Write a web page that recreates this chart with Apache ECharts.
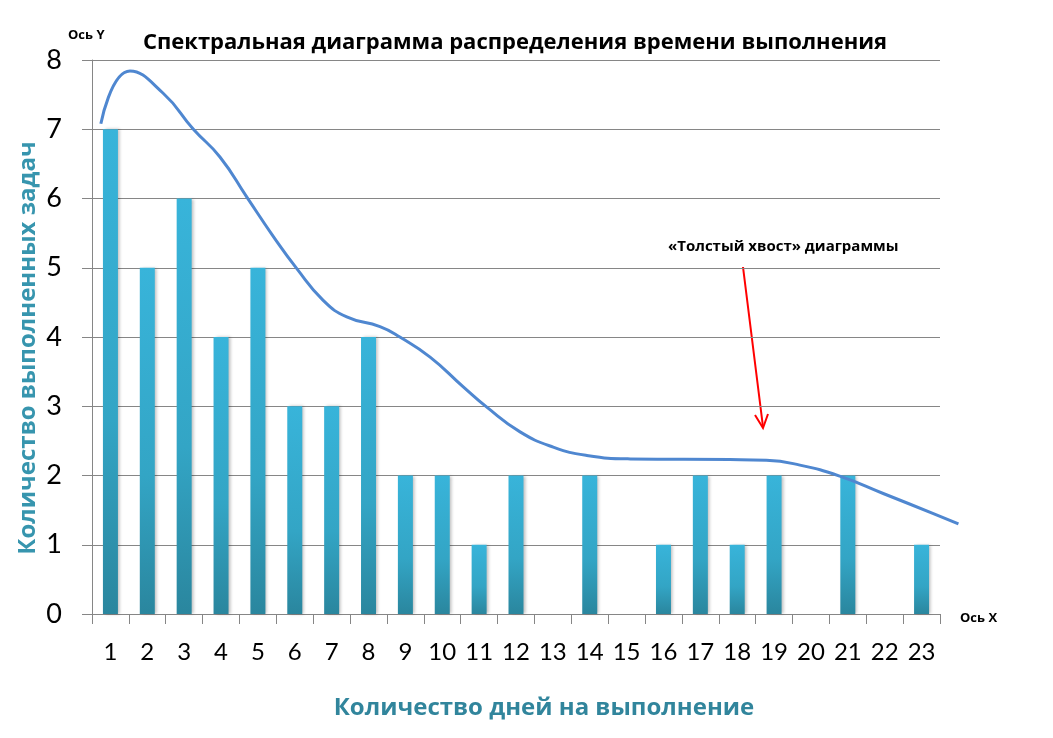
<!DOCTYPE html>
<html>
<head>
<meta charset="utf-8">
<script src="https://cdn.jsdelivr.net/npm/echarts@6/dist/echarts.min.js"></script>
<style>
  html, body { margin: 0; padding: 0; background: #fff; }
  #chart { width: 1053px; height: 738px; }
</style>
</head>
<body>
<div id="chart"></div>
<script>
const days = ['1','2','3','4','5','6','7','8','9','10','11','12','13','14','15','16','17','18','19','20','21','22','23']
const tasks = [7, 5, 6, 4, 5, 3, 3, 4, 2, 2, 1, 2, 0, 2, 0, 1, 2, 1, 2, 0, 2, 0, 1]

// hand drawn trend curve: [day position, value]
const curveX = [0.74, 1.53, 2.43, 3.25, 3.97, 4.70, 5.42, 6.05, 6.77, 7.41, 8.31, 8.85, 9.67, 10.57, 11.2, 12.11, 13.01, 13.92, 15.1, 17.8, 18.79, 19.7, 20.78, 21.96, 23.32, 24.0]
const curveY = [7.08, 7.84, 7.52, 7.0, 6.6, 6.02, 5.45, 4.99, 4.53, 4.29, 4.15, 4.0, 3.71, 3.28, 2.99, 2.63, 2.41, 2.29, 2.24, 2.23, 2.22, 2.15, 1.99, 1.74, 1.45, 1.3]

const chart = echarts.init(document.getElementById('chart'))

const font = 'Lato, "Open Sans", sans-serif'
const bold = '"Open Sans", Lato, sans-serif'
const teal = '#31859c'
const gray = '#868686'

// the curve runs a little past the last category, so it gets its own wider grid
const plotLeft = 92, plotRight = 940, curveRight = 962
const catW = (plotRight - plotLeft) / days.length

const option = {
  animation: false,
  grid: [
    { left: plotLeft, right: 1053 - plotRight, top: 60, bottom: 124, outerBoundsMode: 'none' },
    { left: plotLeft, right: 1053 - curveRight, top: 60, bottom: 124, outerBoundsMode: 'none' }
  ],
  title: {
    text: 'Спектральная диаграмма распределения времени выполнения',
    left: 510, top: 27, textAlign: 'center',
    textStyle: { fontFamily: bold, fontSize: 22, fontWeight: 'bold', color: '#000' }
  },
  xAxis: [
    {
      type: 'category',
      gridIndex: 0,
      data: days,
      boundaryGap: true,
      axisLine: { lineStyle: { color: gray } },
      axisTick: { show: true, length: 10, lineStyle: { color: gray } },
      axisLabel: { fontFamily: font, fontSize: 24, color: '#000', margin: 26, interval: 0 }
    },
    {
      type: 'value',
      gridIndex: 1,
      min: 0.5, max: 0.5 + (curveRight - plotLeft) / catW,
      show: false
    }
  ],
  yAxis: [
    {
      type: 'value',
      gridIndex: 0,
      min: 0, max: 8, interval: 1,
      axisLine: { show: true, lineStyle: { color: gray } },
      axisTick: { show: true, length: 10, lineStyle: { color: gray } },
      splitLine: { lineStyle: { color: gray, width: 1 } },
      axisLabel: { fontFamily: font, fontSize: 27, color: '#000', margin: 30 }
    },
    {
      type: 'value',
      gridIndex: 1,
      min: 0, max: 8,
      show: false
    }
  ],
  series: [
    {
      type: 'bar',
      data: tasks,
      barWidth: 15,
      itemStyle: {
        color: new echarts.graphic.LinearGradient(0, 0, 0, 1, [
          { offset: 0, color: '#38b4da' },
          { offset: 0.6, color: '#33a5c5' },
          { offset: 1, color: '#2a869e' }
        ]),
        shadowColor: 'rgba(0,0,0,0.25)',
        shadowBlur: 3,
        shadowOffsetX: 2
      }
    },
    {
      type: 'line',
      xAxisIndex: 1,
      yAxisIndex: 1,
      data: curveX.map((x, i) => [x, curveY[i]]),
      smooth: 0.5,
      showSymbol: false,
      clip: false,
      lineStyle: { color: '#4f87d0', width: 3 }
    }
  ],
  graphic: [
    { type: 'text', left: 68, top: 29,
      style: { text: 'Ось Y', font: 'bold 13px ' + bold, fill: '#000' } },
    { type: 'text', left: 960, top: 612,
      style: { text: 'Ось X', font: 'bold 13px ' + bold, fill: '#000' } },
    { type: 'text', left: 668, top: 239,
      style: { text: '«Толстый хвост» диаграммы', font: 'bold 15px ' + bold, fill: '#000' } },
    { type: 'text', x: 544, y: 708,
      style: { text: 'Количество дней на выполнение', font: 'bold 24px ' + bold, fill: teal,
        align: 'center', verticalAlign: 'middle' } },
    { type: 'text', x: 28, y: 348, rotation: Math.PI / 2,
      style: { text: 'Количество выполненных задач', font: 'bold 24px ' + bold, fill: '#3795ae',
        align: 'center', verticalAlign: 'middle' } },
    { type: 'line', shape: { x1: 743, y1: 267, x2: 763, y2: 427 },
      style: { stroke: '#ff0000', lineWidth: 2 } },
    { type: 'polyline', shape: { points: [[755, 415], [763, 428], [768, 414]] },
      style: { stroke: '#ff0000', lineWidth: 2, fill: null } }
  ]
}

chart.setOption(option)
</script>
</body>
</html>
